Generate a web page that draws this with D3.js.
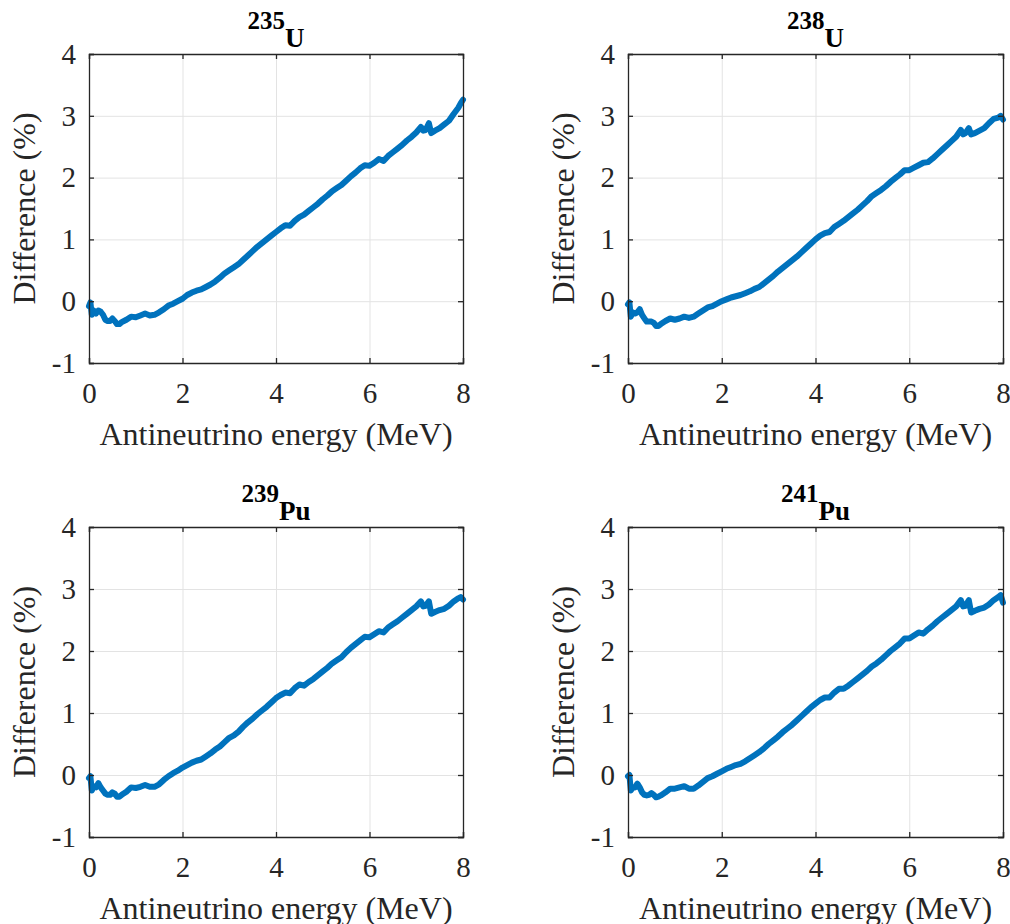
<!DOCTYPE html>
<html>
<head>
<meta charset="utf-8">
<script src="https://cdn.jsdelivr.net/npm/d3@7"></script>
<style>
  body { margin: 0; background: #fff; }
  svg { display: block; }
</style>
</head>
<body>
<svg width="1010" height="924"></svg>
<script>
// shared energy grid (MeV)
var energy = [
  0, 0.03, 0.06, 0.1, 0.15, 0.2, 0.25, 0.3, 0.35, 0.4, 0.45, 0.5, 0.55, 0.6, 0.65, 0.7,
  0.8, 0.9, 1.0, 1.1, 1.2, 1.3, 1.4, 1.5, 1.6, 1.7, 1.8, 1.9, 2.0,
  2.1, 2.2, 2.3, 2.4, 2.5, 2.6, 2.7, 2.8, 2.9, 3.0,
  3.1, 3.2, 3.3, 3.4, 3.5, 3.6, 3.7, 3.8, 3.9, 4.0,
  4.1, 4.2, 4.3, 4.4, 4.5, 4.6, 4.7, 4.8, 4.9, 5.0,
  5.1, 5.2, 5.3, 5.4, 5.5, 5.6, 5.7, 5.8, 5.9, 6.0,
  6.1, 6.2, 6.3, 6.4, 6.5, 6.6, 6.7, 6.8, 6.9, 7.0,
  7.1, 7.15, 7.2, 7.27, 7.32, 7.4, 7.5, 7.6, 7.7, 7.8, 7.9, 7.95, 8.0
];

// difference (%) per isotope
var u235 = [
  -0.08, -0.02, -0.22, -0.15, -0.2, -0.15, -0.17, -0.22, -0.3, -0.32, -0.32, -0.28, -0.32, -0.37, -0.37, -0.34,
  -0.3, -0.25, -0.26, -0.23, -0.2, -0.23, -0.22, -0.18, -0.13, -0.07, -0.04, 0.0, 0.04,
  0.1, 0.14, 0.17, 0.19, 0.23, 0.27, 0.32, 0.38, 0.45, 0.5,
  0.55, 0.6, 0.67, 0.74, 0.81, 0.88, 0.94, 1.0, 1.06, 1.12,
  1.18, 1.23, 1.22, 1.3, 1.36, 1.4, 1.46, 1.52, 1.58, 1.65,
  1.71, 1.78, 1.83, 1.88, 1.95, 2.02, 2.08, 2.15, 2.2, 2.19,
  2.24, 2.3, 2.27, 2.35, 2.41, 2.47, 2.53, 2.6, 2.66, 2.73,
  2.82, 2.76, 2.77, 2.88, 2.72, 2.76, 2.8, 2.86, 2.92, 3.03, 3.13, 3.2, 3.26
];
var u238 = [
  -0.05, -0.02, -0.25, -0.18, -0.2, -0.18, -0.13, -0.22, -0.28, -0.33, -0.33, -0.33, -0.35, -0.4, -0.4, -0.37,
  -0.32, -0.28, -0.3, -0.28, -0.25, -0.27, -0.25, -0.2, -0.15, -0.1, -0.08, -0.04, 0.0,
  0.03, 0.06, 0.08, 0.1, 0.13, 0.16, 0.2, 0.23, 0.29, 0.35,
  0.41, 0.48, 0.54, 0.6, 0.66, 0.72, 0.79, 0.86, 0.93, 1.0,
  1.06, 1.1, 1.12, 1.2, 1.25, 1.3, 1.36, 1.42, 1.48, 1.55,
  1.62, 1.7, 1.75, 1.8, 1.86, 1.93, 1.99, 2.05, 2.12, 2.12,
  2.16, 2.2, 2.24, 2.25, 2.31, 2.38, 2.45, 2.52, 2.59, 2.66,
  2.77, 2.7, 2.72, 2.8, 2.7, 2.72, 2.76, 2.8, 2.88, 2.95, 2.97, 3.0, 2.94
];
var pu239 = [
  -0.05, -0.02, -0.25, -0.18, -0.2, -0.13, -0.2, -0.25, -0.3, -0.32, -0.32, -0.28, -0.3, -0.35, -0.35, -0.32,
  -0.27, -0.2, -0.21, -0.19, -0.16, -0.19, -0.19, -0.15, -0.08, -0.02, 0.03, 0.07, 0.12,
  0.16, 0.2, 0.23, 0.25, 0.3, 0.35, 0.41, 0.46, 0.53, 0.6,
  0.64, 0.7, 0.78, 0.85, 0.91, 0.98, 1.04, 1.1, 1.17, 1.24,
  1.29, 1.33, 1.32, 1.4, 1.46, 1.44, 1.5, 1.55, 1.61, 1.67,
  1.73, 1.8, 1.85, 1.9, 1.98, 2.05, 2.11, 2.17, 2.23, 2.22,
  2.27, 2.32, 2.3, 2.38, 2.43, 2.48, 2.54, 2.6, 2.66, 2.72,
  2.8, 2.72, 2.73, 2.8, 2.6, 2.63, 2.66, 2.68, 2.73, 2.8, 2.85, 2.87, 2.83
];
var pu241 = [
  -0.02, 0.0, -0.25, -0.2, -0.2, -0.14, -0.2, -0.28, -0.32, -0.33, -0.32, -0.29, -0.32, -0.36, -0.35, -0.33,
  -0.28, -0.22, -0.22, -0.2, -0.18, -0.22, -0.22, -0.17, -0.11, -0.05, -0.02, 0.02, 0.06,
  0.1, 0.13, 0.16, 0.18, 0.22, 0.27, 0.32, 0.37, 0.43, 0.5,
  0.56, 0.62, 0.69, 0.75, 0.81, 0.88, 0.95, 1.02, 1.09, 1.15,
  1.21, 1.25, 1.25, 1.33, 1.39, 1.39, 1.44, 1.5, 1.56, 1.62,
  1.68, 1.75, 1.8, 1.86, 1.93, 2.0, 2.06, 2.12, 2.2, 2.2,
  2.25, 2.3, 2.28, 2.35, 2.41, 2.48, 2.54, 2.6, 2.66, 2.72,
  2.82, 2.72, 2.73, 2.82, 2.62, 2.65, 2.68, 2.7, 2.75, 2.82, 2.87, 2.9, 2.78
];

var massNumbers = ["235", "238", "239", "241"];
var elements = ["U", "U", "Pu", "Pu"];
var seriesList = [u235, u238, pu239, pu241];
var xTicks = [0, 2, 4, 6, 8];
var yTicks = [-1, 0, 1, 2, 3, 4];

var panels = [
  { left: 89, right: 463, top: 54, bottom: 363 },
  { left: 628, right: 1003, top: 54, bottom: 363 },
  { left: 89, right: 463, top: 527, bottom: 837 },
  { left: 628, right: 1003, top: 527, bottom: 837 }
];

var svg = d3.select("svg");
var font = "'Liberation Serif', 'Times New Roman', serif";
var axisColor = "#262626";
var lineColor = "#0072BD";

panels.forEach(function(p, i) {
  var data = energy.map((e, j) => ({ e: e, d: seriesList[i][j] }));
  var w = p.right - p.left, h = p.bottom - p.top;

  var xScale = d3.scaleLinear().domain([0, 8]).range([p.left, p.right]);
  var yScale = d3.scaleLinear().domain([-1, 4]).range([p.bottom, p.top]);

  var g = svg.append("g");

  // grid
  g.append("g")
    .attr("transform", "translate(0," + p.bottom + ")")
    .call(d3.axisBottom(xScale).tickValues(xTicks).tickSize(-h).tickFormat(""))
    .call(a => a.select(".domain").remove())
    .selectAll("line").attr("stroke", "#e3e3e3").attr("stroke-width", 1);
  g.append("g")
    .attr("transform", "translate(" + p.left + ",0)")
    .call(d3.axisLeft(yScale).tickValues(yTicks).tickSize(-w).tickFormat(""))
    .call(a => a.select(".domain").remove())
    .selectAll("line").attr("stroke", "#e3e3e3").attr("stroke-width", 1);

  // data line
  g.append("path")
    .datum(data)
    .attr("fill", "none")
    .attr("stroke", lineColor)
    .attr("stroke-width", 6)
    .attr("stroke-linejoin", "round")
    .attr("stroke-linecap", "round")
    .attr("d", d3.line().x(d => xScale(d.e)).y(d => yScale(d.d)));

  // axes, ticks pointing inward
  var xAxis = g.append("g")
    .attr("transform", "translate(0," + p.bottom + ")")
    .call(d3.axisBottom(xScale).tickValues(xTicks).tickSize(-5).tickPadding(19.5).tickFormat(d => String(d)));
  var xTop = g.append("g")
    .attr("transform", "translate(0," + p.top + ")")
    .call(d3.axisTop(xScale).tickValues(xTicks).tickSize(-5).tickFormat(""));
  var yAxis = g.append("g")
    .attr("transform", "translate(" + p.left + ",0)")
    .call(d3.axisLeft(yScale).tickValues(yTicks).tickSize(-5).tickPadding(13).tickFormat(d => String(d)));
  var yRight = g.append("g")
    .attr("transform", "translate(" + p.right + ",0)")
    .call(d3.axisRight(yScale).tickValues(yTicks).tickSize(-5).tickFormat(""));

  [xAxis, xTop, yAxis, yRight].forEach(function(a) {
    a.selectAll(".domain").attr("stroke", axisColor).attr("stroke-width", 1.3);
    a.selectAll(".tick line").attr("stroke", axisColor).attr("stroke-width", 1.3);
    a.selectAll("text")
      .attr("font-family", font)
      .attr("font-size", 29)
      .attr("fill", axisColor);
  });

  // axis labels
  g.append("text")
    .attr("x", (p.left + p.right) / 2)
    .attr("y", p.bottom + 82)
    .attr("text-anchor", "middle")
    .attr("font-family", font)
    .attr("font-size", 32)
    .attr("fill", axisColor)
    .text("Antineutrino energy (MeV)");

  g.append("text")
    .attr("transform", "translate(" + (p.left - 54) + "," + (p.top + h / 2) + ") rotate(-90)")
    .attr("text-anchor", "middle")
    .attr("font-family", font)
    .attr("font-size", 32)
    .attr("fill", axisColor)
    .text("Difference (%)");

  // title with superscript mass number
  var title = g.append("text")
    .attr("x", (p.left + p.right) / 2)
    .attr("y", p.top - 7.5)
    .attr("text-anchor", "middle")
    .attr("font-family", font)
    .attr("font-weight", "bold")
    .attr("fill", "#000");
  title.append("tspan")
    .attr("font-size", 25)
    .attr("dy", -18)
    .text(massNumbers[i]);
  title.append("tspan")
    .attr("font-size", 27)
    .attr("dy", 18)
    .text(elements[i]);
});
</script>
</body>
</html>
